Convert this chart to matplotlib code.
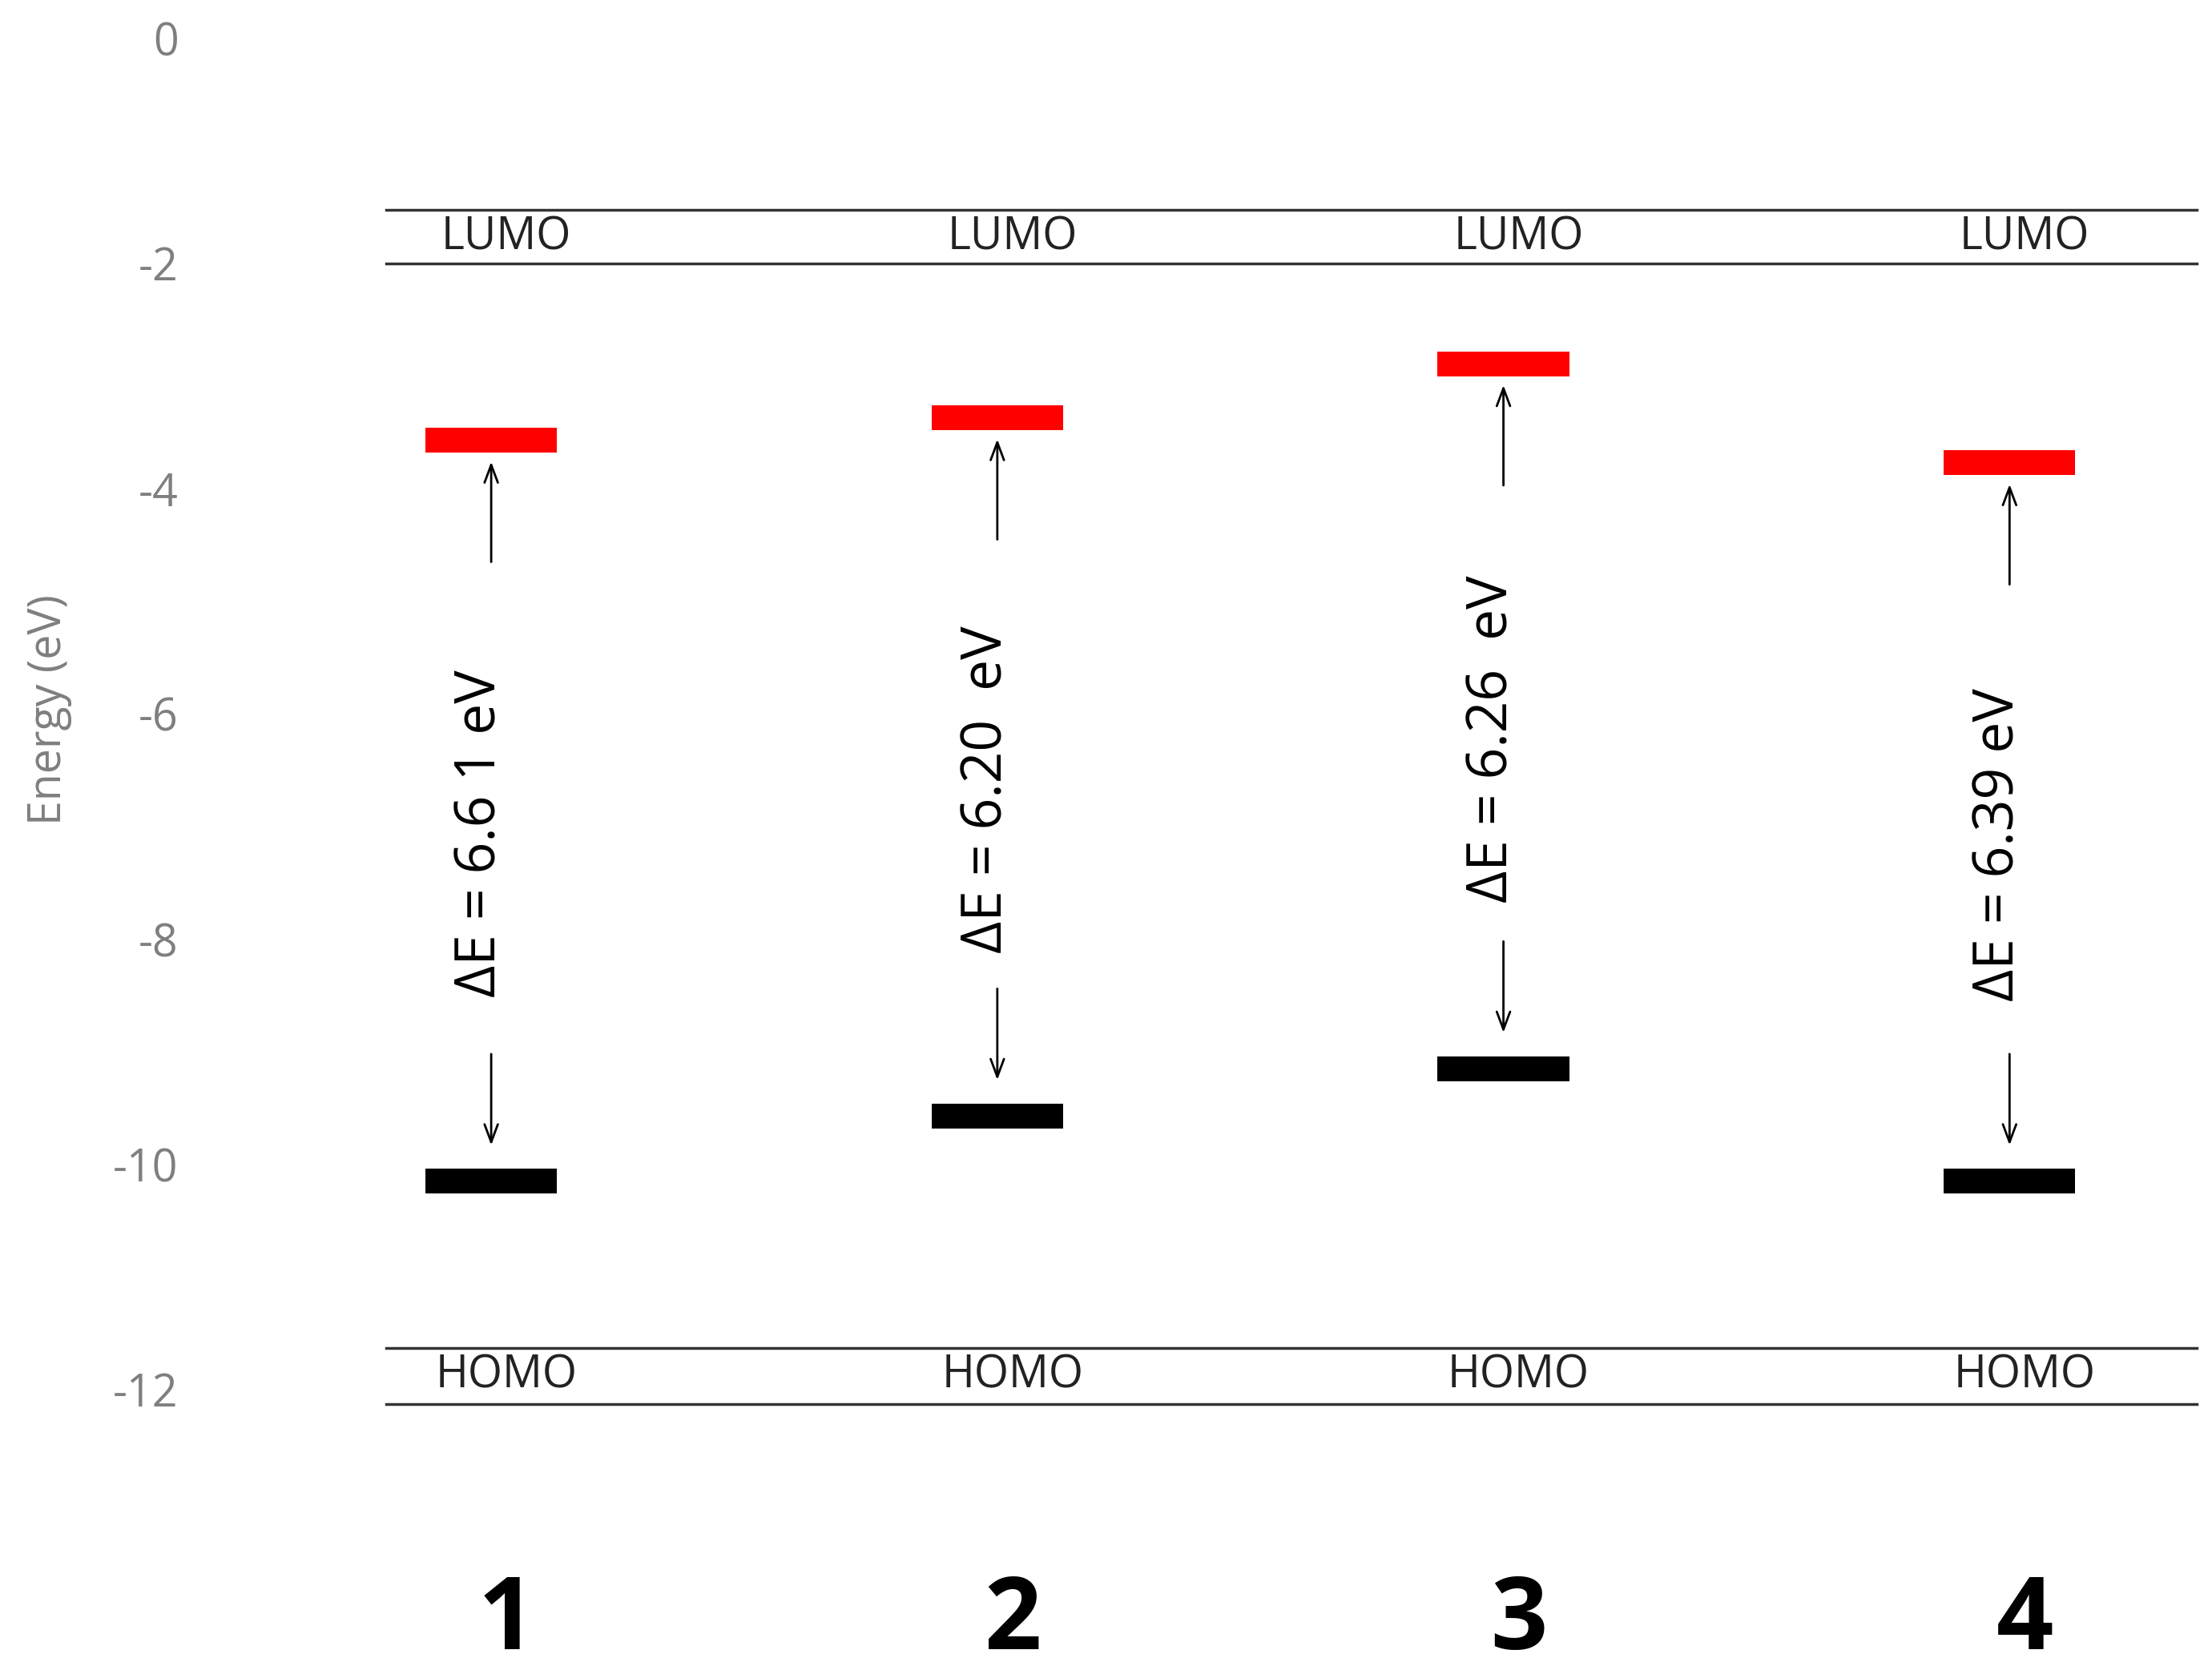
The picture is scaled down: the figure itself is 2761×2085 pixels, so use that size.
import matplotlib
matplotlib.use("Agg")
import matplotlib.pyplot as plt

plt.rcParams['font.family'] = ['Open Sans', 'DejaVu Sans']

molecules = ["1", "2", "3", "4"]
lumo = [-3.57, -3.37, -2.89, -3.77]
homo = [-10.15, -9.57, -9.15, -10.15]
gap_labels = ["ΔE = 6.6 1 eV", "ΔE = 6.20  eV", "ΔE = 6.26  eV", "ΔE = 6.39 eV"]
yticks = [0, -2, -4, -6, -8, -10, -12]

fig = plt.figure(figsize=(27.61, 20.85), dpi=100)
ax = fig.add_axes([130/1563, 0, 1 - 130/1563, 1])
ax.set_ylim(-14.49, 0.34)
ax.set_xlim(0.393, 4.40)
for s in ax.spines.values():
    s.set_visible(False)
ax.set_xticks([])
ax.set_yticks(yticks)
ax.set_yticklabels([str(t) for t in yticks], color='#7f7f7f', fontsize=40)
ax.tick_params(axis='y', length=0, pad=5)
fig.text(35/1563, 0.575, "Energy (eV)", rotation=90, color='#7f7f7f', fontsize=40,
         ha='center', va='center')

xs = list(range(1, 5))
for yv in [-1.52, -2.0, -11.63, -12.13]:
    ax.plot([0.793, 4.37], [yv, yv], color='#333333', lw=2.5)

ax.bar(xs, 0.22, bottom=[v - 0.11 for v in lumo], width=0.26, color='#ff0000')
ax.bar(xs, 0.22, bottom=[v - 0.11 for v in homo], width=0.26, color='black')

astyle = dict(arrowstyle='->,head_length=1.6,head_width=0.6', lw=2, color='black')
for i, x in enumerate(xs):
    ax.text(x + 0.03, -1.77, "LUMO", ha='center', va='center', fontsize=40, color='#222222')
    ax.text(x + 0.03, -11.88, "HOMO", ha='center', va='center', fontsize=40, color='#222222')
    ax.text(x + 0.03, -14.07, molecules[i], ha='center', va='center', fontsize=90,
            fontweight='bold')
    mid = (lumo[i] + homo[i]) / 2
    ax.text(x - 0.02, mid - 0.2, gap_labels[i], rotation=90, ha='center', va='center',
            fontsize=50, fontweight='medium')
    ax.annotate("", xy=(x, lumo[i] - 0.17), xytext=(x, lumo[i] - 1.1), arrowprops=astyle)
    ax.annotate("", xy=(x, homo[i] + 0.3), xytext=(x, homo[i] + 1.15), arrowprops=astyle)

fig.savefig("out.png", dpi=100)
